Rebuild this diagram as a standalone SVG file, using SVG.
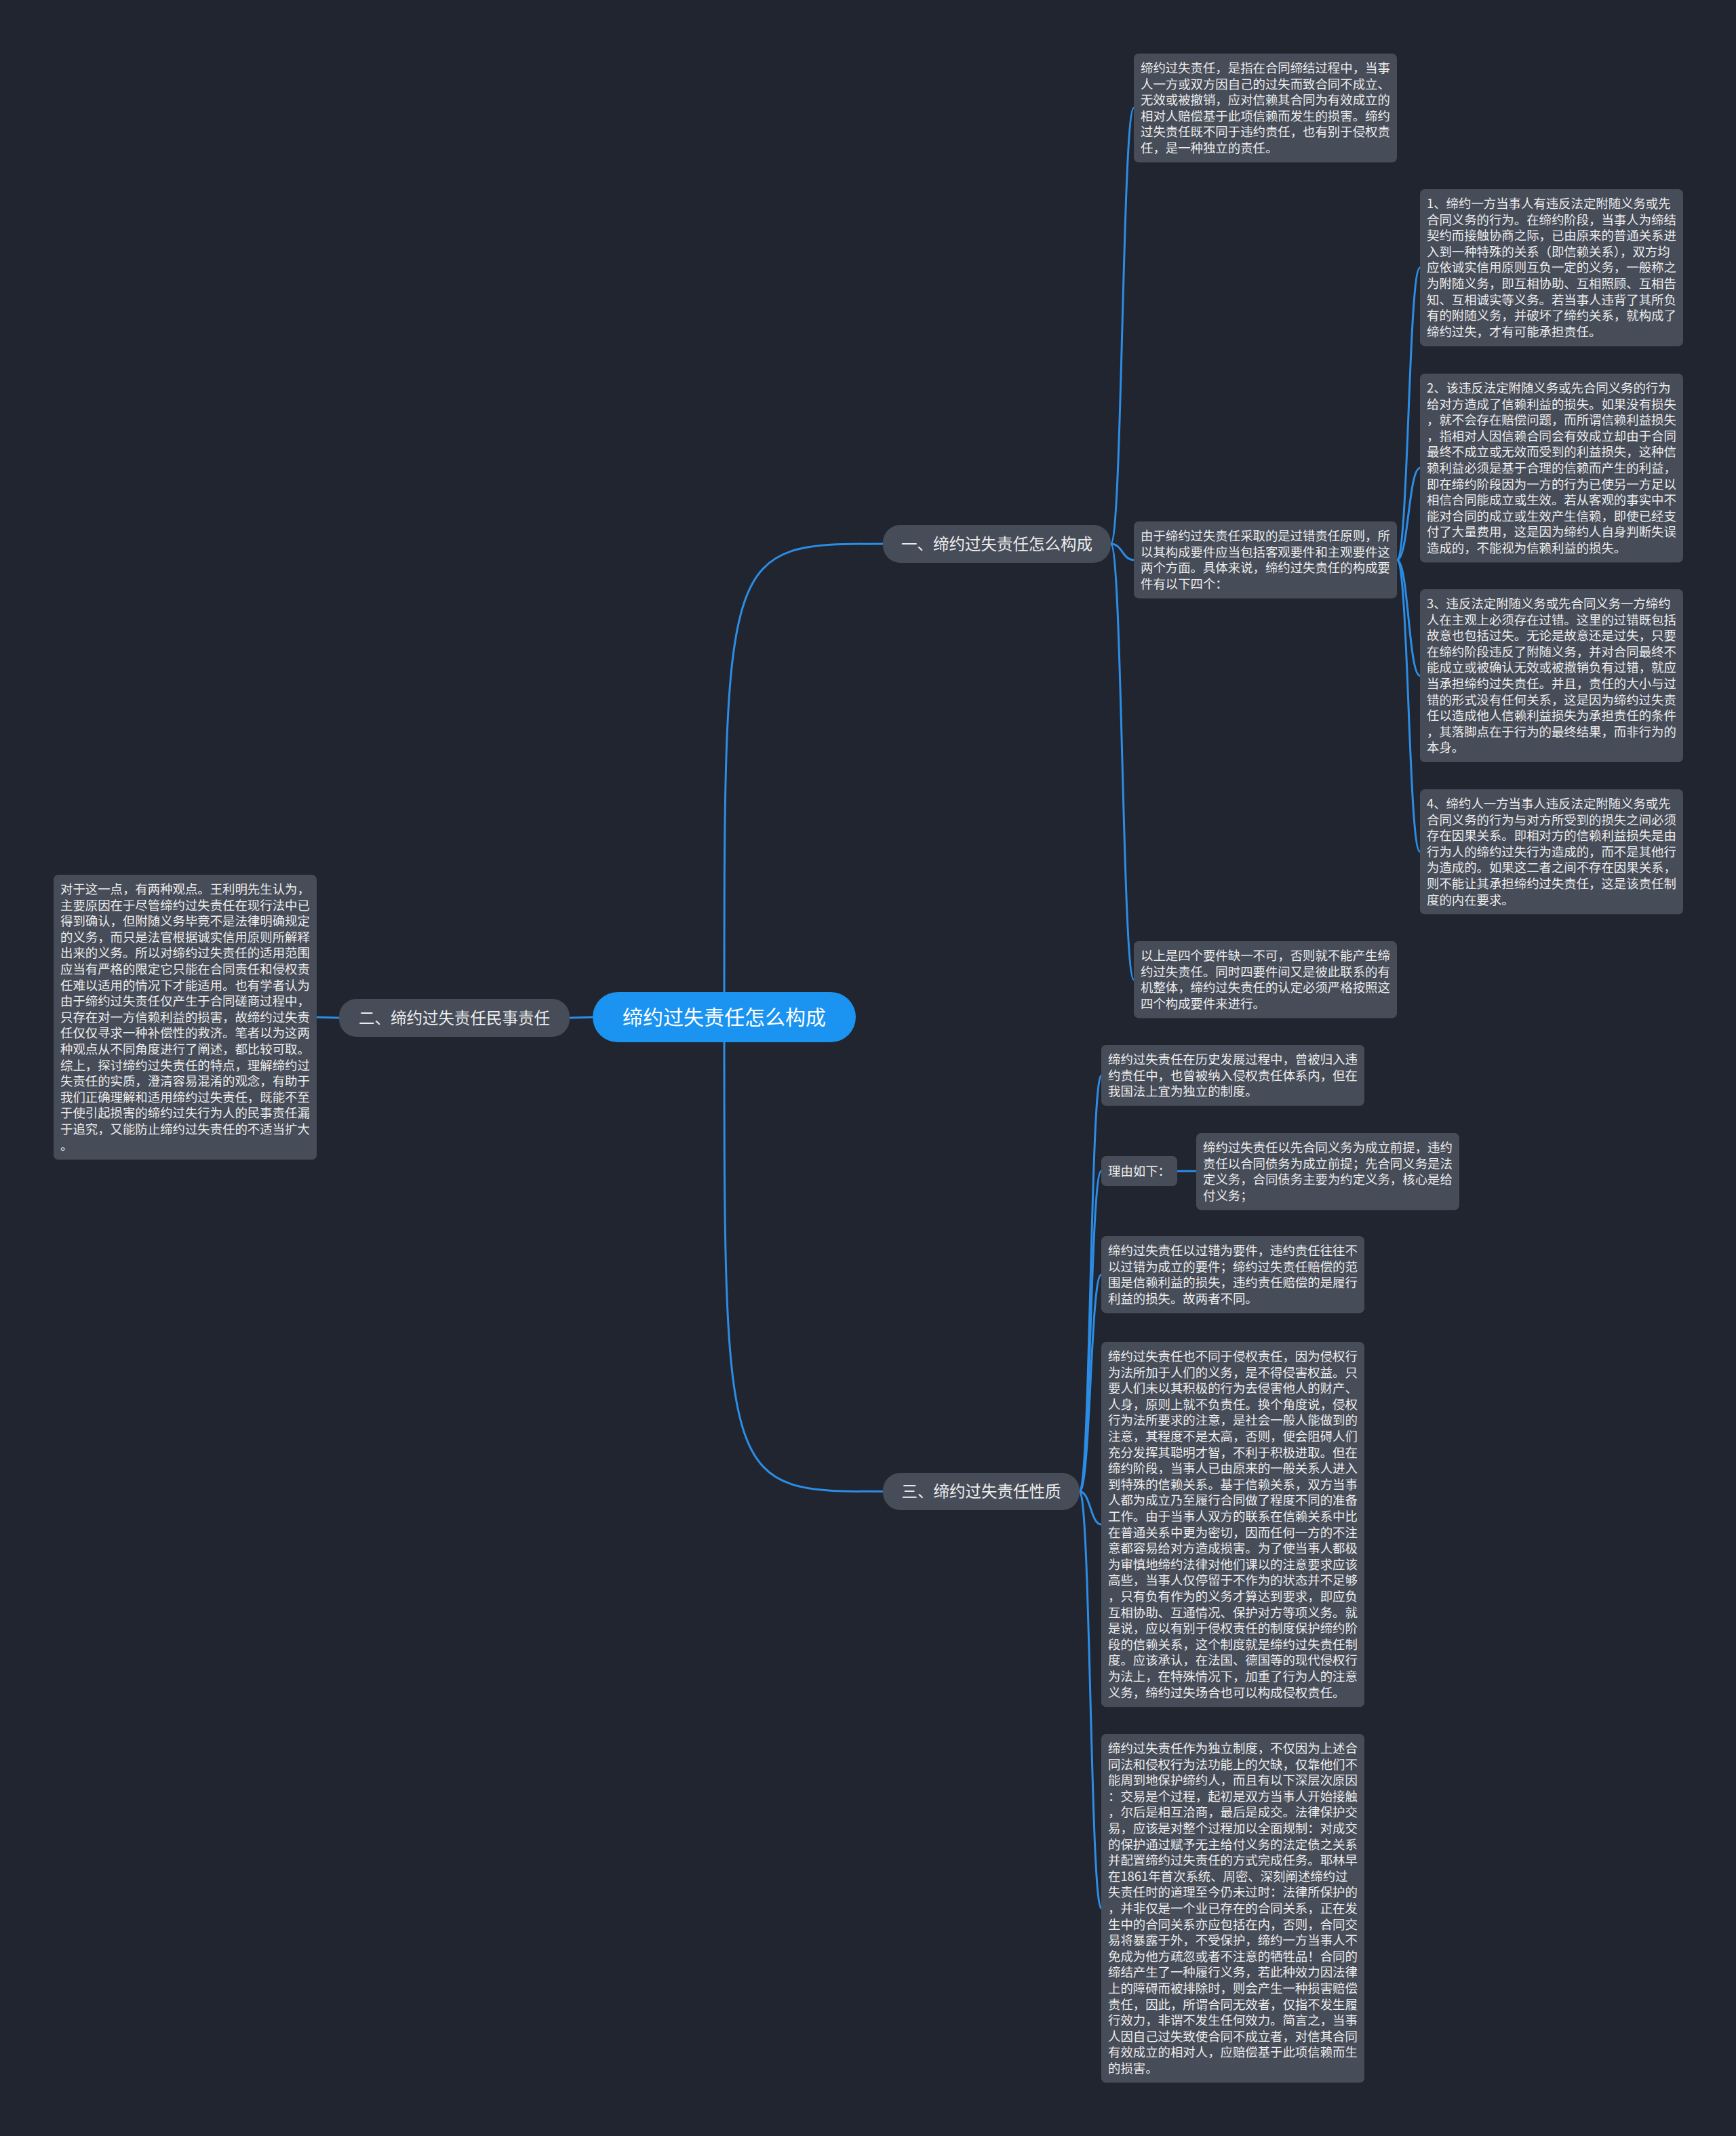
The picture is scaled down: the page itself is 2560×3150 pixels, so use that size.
<svg xmlns="http://www.w3.org/2000/svg" width="2560" height="3150" viewBox="0 0 2560 3150">
<style>
.bg{fill:#21252f}
.box{fill:#474c59}
.t{font-family:"Noto Sans CJK SC","Noto Sans",sans-serif;font-size:18.4px;fill:#ececec}
.b{font-family:"Noto Sans CJK SC","Noto Sans",sans-serif;font-size:23.5px;fill:#ececec;text-anchor:middle}
.r{font-family:"Noto Sans CJK SC","Noto Sans",sans-serif;font-size:30px;fill:#ffffff;text-anchor:middle}
.c{fill:none;stroke:#2b8de6;stroke-width:3}
</style>
<rect class="bg" x="0" y="0" width="2560" height="3150"/>
<g id="connectors">
<path class="c" d="M1068,1500 C1068,802 1068,802 1302,802"/>
<path class="c" d="M1068,1500 C1068,2199.5 1068,2199.5 1302,2199.5"/>
<path class="c" d="M874,1500 L840,1501"/>
<path class="c" d="M500,1501 L466,1500"/>
<path class="c" d="M1638,802 C1655,802 1655,159.3 1672,159.3"/>
<path class="c" d="M1638,802 C1655,802 1655,825.7 1672,825.7"/>
<path class="c" d="M1638,802 C1655,802 1655,1444.7 1672,1444.7"/>
<path class="c" d="M2060,825.7 C2077,825.7 2077,394.7 2094,394.7"/>
<path class="c" d="M2060,825.7 C2077,825.7 2077,690.3 2094,690.3"/>
<path class="c" d="M2060,825.7 C2077,825.7 2077,996.5 2094,996.5"/>
<path class="c" d="M2060,825.7 C2077,825.7 2077,1256.1 2094,1256.1"/>
<path class="c" d="M1592,2199.5 C1608,2199.5 1608,1585.9 1624,1585.9"/>
<path class="c" d="M1592,2199.5 C1608,2199.5 1608,1727 1624,1727"/>
<path class="c" d="M1592,2199.5 C1608,2199.5 1608,1879.7 1624,1879.7"/>
<path class="c" d="M1592,2199.5 C1608,2199.5 1608,2248.1 1624,2248.1"/>
<path class="c" d="M1592,2199.5 C1608,2199.5 1608,2814.3 1624,2814.3"/>
<path class="c" d="M1736,1727 L1764,1727"/>
</g>
<g id="root">
<rect x="874" y="1463" width="388" height="74" rx="37" fill="#1b93f0"/>
<text class="r" x="1068" y="1511">缔约过失责任怎么构成</text>
</g>
<g id="branch1">
<rect class="box" x="1302" y="774" width="336" height="56" rx="26"/>
<text class="b" x="1470" y="811">一、缔约过失责任怎么构成</text>
</g>
<g id="branch2">
<rect class="box" x="500" y="1473" width="340" height="56" rx="26"/>
<text class="b" x="670" y="1510">二、缔约过失责任民事责任</text>
</g>
<g id="branch3">
<rect class="box" x="1302" y="2172" width="290" height="55" rx="26"/>
<text class="b" x="1447" y="2208">三、缔约过失责任性质</text>
</g>
<g id="n-definition">
<rect class="box" x="1672" y="79" width="388" height="160.6" rx="7"/>
<text class="t"><tspan x="1682" y="107">缔约过失责任，是指在合同缔结过程中，当事</tspan><tspan x="1682" y="130.6">人一方或双方因自己的过失而致合同不成立、</tspan><tspan x="1682" y="154.2">无效或被撤销，应对信赖其合同为有效成立的</tspan><tspan x="1682" y="177.8">相对人赔偿基于此项信赖而发生的损害。缔约</tspan><tspan x="1682" y="201.4">过失责任既不同于违约责任，也有别于侵权责</tspan><tspan x="1682" y="225">任，是一种独立的责任。</tspan></text>
</g>
<g id="n-elements">
<rect class="box" x="1672" y="769" width="388" height="113.4" rx="7"/>
<text class="t"><tspan x="1682" y="797">由于缔约过失责任采取的是过错责任原则，所</tspan><tspan x="1682" y="820.6">以其构成要件应当包括客观要件和主观要件这</tspan><tspan x="1682" y="844.2">两个方面。具体来说，缔约过失责任的构成要</tspan><tspan x="1682" y="867.8">件有以下四个：</tspan></text>
</g>
<g id="n-e1">
<rect class="box" x="2094" y="279" width="388" height="231.4" rx="7"/>
<text class="t"><tspan x="2104" y="307">1、缔约一方当事人有违反法定附随义务或先</tspan><tspan x="2104" y="330.6">合同义务的行为。在缔约阶段，当事人为缔结</tspan><tspan x="2104" y="354.2">契约而接触协商之际，已由原来的普通关系进</tspan><tspan x="2104" y="377.8">入到一种特殊的关系（即信赖关系），双方均</tspan><tspan x="2104" y="401.4">应依诚实信用原则互负一定的义务，一般称之</tspan><tspan x="2104" y="425">为附随义务，即互相协助、互相照顾、互相告</tspan><tspan x="2104" y="448.6">知、互相诚实等义务。若当事人违背了其所负</tspan><tspan x="2104" y="472.2">有的附随义务，并破坏了缔约关系，就构成了</tspan><tspan x="2104" y="495.8">缔约过失，才有可能承担责任。</tspan></text>
</g>
<g id="n-e2">
<rect class="box" x="2094" y="551" width="388" height="278.6" rx="7"/>
<text class="t"><tspan x="2104" y="579">2、该违反法定附随义务或先合同义务的行为</tspan><tspan x="2104" y="602.6">给对方造成了信赖利益的损失。如果没有损失</tspan><tspan x="2104" y="626.2">，就不会存在赔偿问题，而所谓信赖利益损失</tspan><tspan x="2104" y="649.8">，指相对人因信赖合同会有效成立却由于合同</tspan><tspan x="2104" y="673.4">最终不成立或无效而受到的利益损失，这种信</tspan><tspan x="2104" y="697">赖利益必须是基于合理的信赖而产生的利益，</tspan><tspan x="2104" y="720.6">即在缔约阶段因为一方的行为已使另一方足以</tspan><tspan x="2104" y="744.2">相信合同能成立或生效。若从客观的事实中不</tspan><tspan x="2104" y="767.8">能对合同的成立或生效产生信赖，即使已经支</tspan><tspan x="2104" y="791.4">付了大量费用，这是因为缔约人自身判断失误</tspan><tspan x="2104" y="815">造成的，不能视为信赖利益的损失。</tspan></text>
</g>
<g id="n-e3">
<rect class="box" x="2094" y="869" width="388" height="255" rx="7"/>
<text class="t"><tspan x="2104" y="897">3、违反法定附随义务或先合同义务一方缔约</tspan><tspan x="2104" y="920.6">人在主观上必须存在过错。这里的过错既包括</tspan><tspan x="2104" y="944.2">故意也包括过失。无论是故意还是过失，只要</tspan><tspan x="2104" y="967.8">在缔约阶段违反了附随义务，并对合同最终不</tspan><tspan x="2104" y="991.4">能成立或被确认无效或被撤销负有过错，就应</tspan><tspan x="2104" y="1015">当承担缔约过失责任。并且，责任的大小与过</tspan><tspan x="2104" y="1038.6">错的形式没有任何关系，这是因为缔约过失责</tspan><tspan x="2104" y="1062.2">任以造成他人信赖利益损失为承担责任的条件</tspan><tspan x="2104" y="1085.8">，其落脚点在于行为的最终结果，而非行为的</tspan><tspan x="2104" y="1109.4">本身。</tspan></text>
</g>
<g id="n-e4">
<rect class="box" x="2094" y="1164" width="388" height="184.2" rx="7"/>
<text class="t"><tspan x="2104" y="1192">4、缔约人一方当事人违反法定附随义务或先</tspan><tspan x="2104" y="1215.6">合同义务的行为与对方所受到的损失之间必须</tspan><tspan x="2104" y="1239.2">存在因果关系。即相对方的信赖利益损失是由</tspan><tspan x="2104" y="1262.8">行为人的缔约过失行为造成的，而不是其他行</tspan><tspan x="2104" y="1286.4">为造成的。如果这二者之间不存在因果关系，</tspan><tspan x="2104" y="1310">则不能让其承担缔约过失责任，这是该责任制</tspan><tspan x="2104" y="1333.6">度的内在要求。</tspan></text>
</g>
<g id="n-summary">
<rect class="box" x="1672" y="1388" width="388" height="113.4" rx="7"/>
<text class="t"><tspan x="1682" y="1416">以上是四个要件缺一不可，否则就不能产生缔</tspan><tspan x="1682" y="1439.6">约过失责任。同时四要件间又是彼此联系的有</tspan><tspan x="1682" y="1463.2">机整体，缔约过失责任的认定必须严格按照这</tspan><tspan x="1682" y="1486.8">四个构成要件来进行。</tspan></text>
</g>
<g id="n-civil">
<rect class="box" x="79" y="1290" width="388" height="420.2" rx="7"/>
<text class="t"><tspan x="89" y="1318">对于这一点，有两种观点。王利明先生认为，</tspan><tspan x="89" y="1341.6">主要原因在于尽管缔约过失责任在现行法中已</tspan><tspan x="89" y="1365.2">得到确认，但附随义务毕竟不是法律明确规定</tspan><tspan x="89" y="1388.8">的义务，而只是法官根据诚实信用原则所解释</tspan><tspan x="89" y="1412.4">出来的义务。所以对缔约过失责任的适用范围</tspan><tspan x="89" y="1436">应当有严格的限定它只能在合同责任和侵权责</tspan><tspan x="89" y="1459.6">任难以适用的情况下才能适用。也有学者认为</tspan><tspan x="89" y="1483.2">由于缔约过失责任仅产生于合同磋商过程中，</tspan><tspan x="89" y="1506.8">只存在对一方信赖利益的损害，故缔约过失责</tspan><tspan x="89" y="1530.4">任仅仅寻求一种补偿性的救济。笔者以为这两</tspan><tspan x="89" y="1554">种观点从不同角度进行了阐述，都比较可取。</tspan><tspan x="89" y="1577.6">综上，探讨缔约过失责任的特点，理解缔约过</tspan><tspan x="89" y="1601.2">失责任的实质，澄清容易混淆的观念，有助于</tspan><tspan x="89" y="1624.8">我们正确理解和适用缔约过失责任，既能不至</tspan><tspan x="89" y="1648.4">于使引起损害的缔约过失行为人的民事责任漏</tspan><tspan x="89" y="1672">于追究，又能防止缔约过失责任的不适当扩大</tspan><tspan x="89" y="1695.6">。</tspan></text>
</g>
<g id="n-history">
<rect class="box" x="1624" y="1541" width="388" height="89.8" rx="7"/>
<text class="t"><tspan x="1634" y="1569">缔约过失责任在历史发展过程中，曾被归入违</tspan><tspan x="1634" y="1592.6">约责任中，也曾被纳入侵权责任体系内，但在</tspan><tspan x="1634" y="1616.2">我国法上宜为独立的制度。</tspan></text>
</g>
<g id="n-reason">
<rect class="box" x="1624" y="1705" width="112" height="44" rx="7"/>
<text class="t" x="1634" y="1734">理由如下：</text>
</g>
<g id="n-reason1">
<rect class="box" x="1764" y="1671" width="388" height="113.4" rx="7"/>
<text class="t"><tspan x="1774" y="1699">缔约过失责任以先合同义务为成立前提，违约</tspan><tspan x="1774" y="1722.6">责任以合同债务为成立前提；先合同义务是法</tspan><tspan x="1774" y="1746.2">定义务，合同债务主要为约定义务，核心是给</tspan><tspan x="1774" y="1769.8">付义务；</tspan></text>
</g>
<g id="n-fault">
<rect class="box" x="1624" y="1823" width="388" height="113.4" rx="7"/>
<text class="t"><tspan x="1634" y="1851">缔约过失责任以过错为要件，违约责任往往不</tspan><tspan x="1634" y="1874.6">以过错为成立的要件；缔约过失责任赔偿的范</tspan><tspan x="1634" y="1898.2">围是信赖利益的损失，违约责任赔偿的是履行</tspan><tspan x="1634" y="1921.8">利益的损失。故两者不同。</tspan></text>
</g>
<g id="n-tort">
<rect class="box" x="1624" y="1979" width="388" height="538.2" rx="7"/>
<text class="t"><tspan x="1634" y="2007">缔约过失责任也不同于侵权责任，因为侵权行</tspan><tspan x="1634" y="2030.6">为法所加于人们的义务，是不得侵害权益。只</tspan><tspan x="1634" y="2054.2">要人们未以其积极的行为去侵害他人的财产、</tspan><tspan x="1634" y="2077.8">人身，原则上就不负责任。换个角度说，侵权</tspan><tspan x="1634" y="2101.4">行为法所要求的注意，是社会一般人能做到的</tspan><tspan x="1634" y="2125">注意，其程度不是太高，否则，便会阻碍人们</tspan><tspan x="1634" y="2148.6">充分发挥其聪明才智，不利于积极进取。但在</tspan><tspan x="1634" y="2172.2">缔约阶段，当事人已由原来的一般关系人进入</tspan><tspan x="1634" y="2195.8">到特殊的信赖关系。基于信赖关系，双方当事</tspan><tspan x="1634" y="2219.4">人都为成立乃至履行合同做了程度不同的准备</tspan><tspan x="1634" y="2243">工作。由于当事人双方的联系在信赖关系中比</tspan><tspan x="1634" y="2266.6">在普通关系中更为密切，因而任何一方的不注</tspan><tspan x="1634" y="2290.2">意都容易给对方造成损害。为了使当事人都极</tspan><tspan x="1634" y="2313.8">为审慎地缔约法律对他们课以的注意要求应该</tspan><tspan x="1634" y="2337.4">高些，当事人仅停留于不作为的状态并不足够</tspan><tspan x="1634" y="2361">，只有负有作为的义务才算达到要求，即应负</tspan><tspan x="1634" y="2384.6">互相协助、互通情况、保护对方等项义务。就</tspan><tspan x="1634" y="2408.2">是说，应以有别于侵权责任的制度保护缔约阶</tspan><tspan x="1634" y="2431.8">段的信赖关系，这个制度就是缔约过失责任制</tspan><tspan x="1634" y="2455.4">度。应该承认，在法国、德国等的现代侵权行</tspan><tspan x="1634" y="2479">为法上，在特殊情况下，加重了行为人的注意</tspan><tspan x="1634" y="2502.6">义务，缔约过失场合也可以构成侵权责任。</tspan></text>
</g>
<g id="n-independent">
<rect class="box" x="1624" y="2557" width="388" height="514.6" rx="7"/>
<text class="t"><tspan x="1634" y="2585">缔约过失责任作为独立制度，不仅因为上述合</tspan><tspan x="1634" y="2608.6">同法和侵权行为法功能上的欠缺，仅靠他们不</tspan><tspan x="1634" y="2632.2">能周到地保护缔约人，而且有以下深层次原因</tspan><tspan x="1634" y="2655.8">：交易是个过程，起初是双方当事人开始接触</tspan><tspan x="1634" y="2679.4">，尔后是相互洽商，最后是成交。法律保护交</tspan><tspan x="1634" y="2703">易，应该是对整个过程加以全面规制：对成交</tspan><tspan x="1634" y="2726.6">的保护通过赋予无主给付义务的法定债之关系</tspan><tspan x="1634" y="2750.2">并配置缔约过失责任的方式完成任务。耶林早</tspan><tspan x="1634" y="2773.8">在1861年首次系统、周密、深刻阐述缔约过</tspan><tspan x="1634" y="2797.4">失责任时的道理至今仍未过时：法律所保护的</tspan><tspan x="1634" y="2821">，并非仅是一个业已存在的合同关系，正在发</tspan><tspan x="1634" y="2844.6">生中的合同关系亦应包括在内，否则，合同交</tspan><tspan x="1634" y="2868.2">易将暴露于外，不受保护，缔约一方当事人不</tspan><tspan x="1634" y="2891.8">免成为他方疏忽或者不注意的牺牲品！合同的</tspan><tspan x="1634" y="2915.4">缔结产生了一种履行义务，若此种效力因法律</tspan><tspan x="1634" y="2939">上的障碍而被排除时，则会产生一种损害赔偿</tspan><tspan x="1634" y="2962.6">责任，因此，所谓合同无效者，仅指不发生履</tspan><tspan x="1634" y="2986.2">行效力，非谓不发生任何效力。简言之，当事</tspan><tspan x="1634" y="3009.8">人因自己过失致使合同不成立者，对信其合同</tspan><tspan x="1634" y="3033.4">有效成立的相对人，应赔偿基于此项信赖而生</tspan><tspan x="1634" y="3057">的损害。</tspan></text>
</g>
</svg>
